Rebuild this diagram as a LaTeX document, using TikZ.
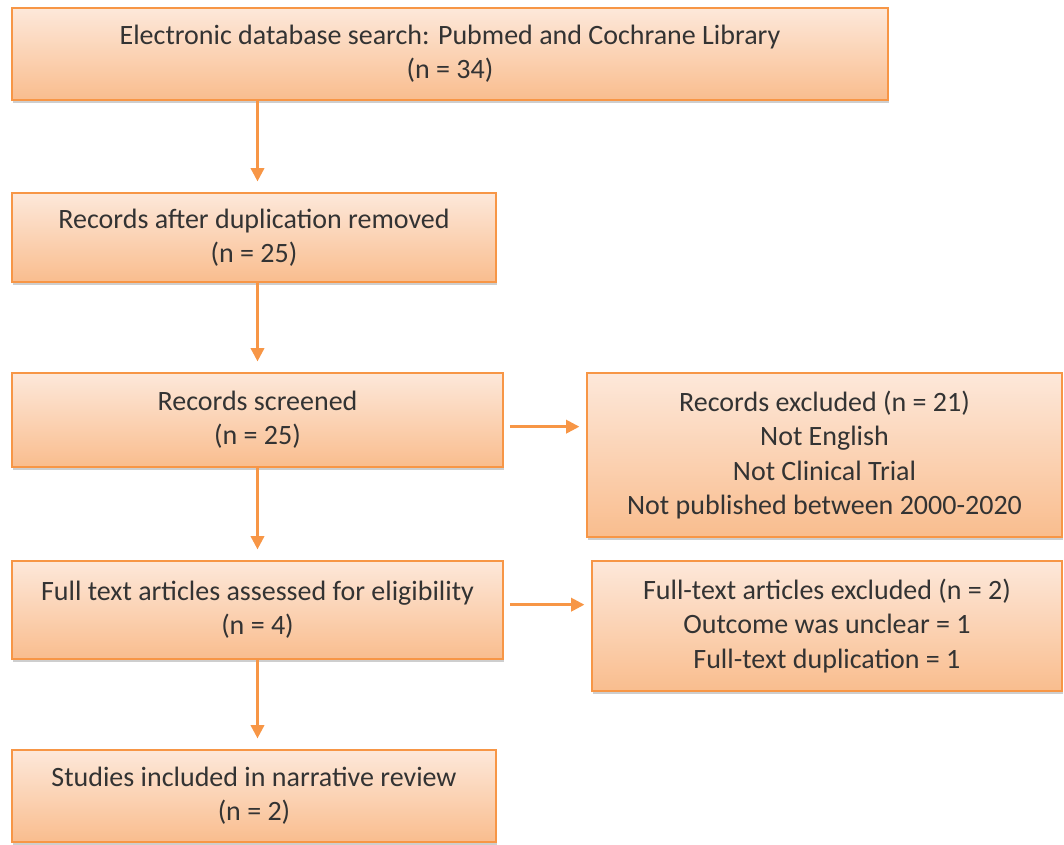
\documentclass[tikz,border=0pt]{standalone}
\usepackage{fontspec}
\setmainfont{Carlito}
\usepackage{tikz}
\usetikzlibrary{arrows.meta, positioning, shadows}

\definecolor{boxline}{HTML}{F79646}
\definecolor{boxtop}{HTML}{FDE8DA}
\definecolor{boxbot}{HTML}{F9BD8E}
\definecolor{boxtext}{HTML}{333333}

\begin{document}
\begin{tikzpicture}[
    x=0.75pt, y=-0.75pt,
    stage/.style={draw=boxline, rectangle, line width=1.4pt,
                  top color=boxtop, bottom color=boxbot,
                  drop shadow={shadow xshift=1pt, shadow yshift=-2.2pt,
                               opacity=0.35, fill=black!55},
                  align=center, text=boxtext, inner sep=0pt,
                  font=\fontsize{21}{25.7}\selectfont},
    flow/.style={-{Triangle[width=10pt, length=10pt]}, line width=2pt,
                 draw=boxline}
]
    \useasboundingbox (0,0) rectangle (1064,844);

    % ── Colonne gauche : étapes principales ──
    \node[stage, minimum width=657pt, minimum height=69pt] (search) at (450, 54) {
        Electronic database search: Pubmed and Cochrane Library \\
        (n = 34)
    };

    \node[stage, minimum width=363pt, minimum height=66.75pt] (dedup) at (254, 237.5) {
        Records after duplication removed \\
        (n = 25)
    };

    \node[stage, minimum width=368.25pt, minimum height=70.5pt] (screened) at (257.5, 420) {
        Records screened \\
        (n = 25)
    };

    \node[stage, minimum width=368.25pt, minimum height=73.5pt] (fulltext) at (257.5, 610) {
        Full text articles assessed for eligibility \\
        (n = 4)
    };

    \node[stage, minimum width=363pt, minimum height=69pt] (included) at (254, 796) {
        Studies included in narrative review \\
        (n = 2)
    };

    % ── Colonne droite : exclusions ──
    \node[stage, minimum width=356.25pt, minimum height=123pt] (excluded) at (824.5, 455) {
        Records excluded (n = 21) \\
        Not English \\
        Not Clinical Trial \\
        Not published between 2000-2020
    };

    \node[stage, minimum width=352.5pt, minimum height=97.5pt] (ftexcluded) at (827, 626) {
        Full-text articles excluded (n = 2) \\
        Outcome was unclear = 1 \\
        Full-text duplication = 1
    };

    % ── Flèches ──
    \draw[flow, shorten >=8pt] (search.south -| screened) -- (dedup.north -| screened);
    \draw[flow, shorten >=8pt] (dedup.south -| screened) -- (screened.north);
    \draw[flow, shorten >=8pt] (screened.south) -- (fulltext.north);
    \draw[flow, shorten >=8pt] (fulltext.south) -- (included.north -| fulltext);
    \draw[flow, shorten <=4.5pt, shorten >=5pt] ([yshift=-5pt]screened.east) -- ([yshift=-5pt]excluded.west |- screened.east);
    \draw[flow, shorten <=4.5pt, shorten >=5pt] ([yshift=4pt]fulltext.east) -- ([yshift=4pt]ftexcluded.west |- fulltext.east);

\end{tikzpicture}
\end{document}
